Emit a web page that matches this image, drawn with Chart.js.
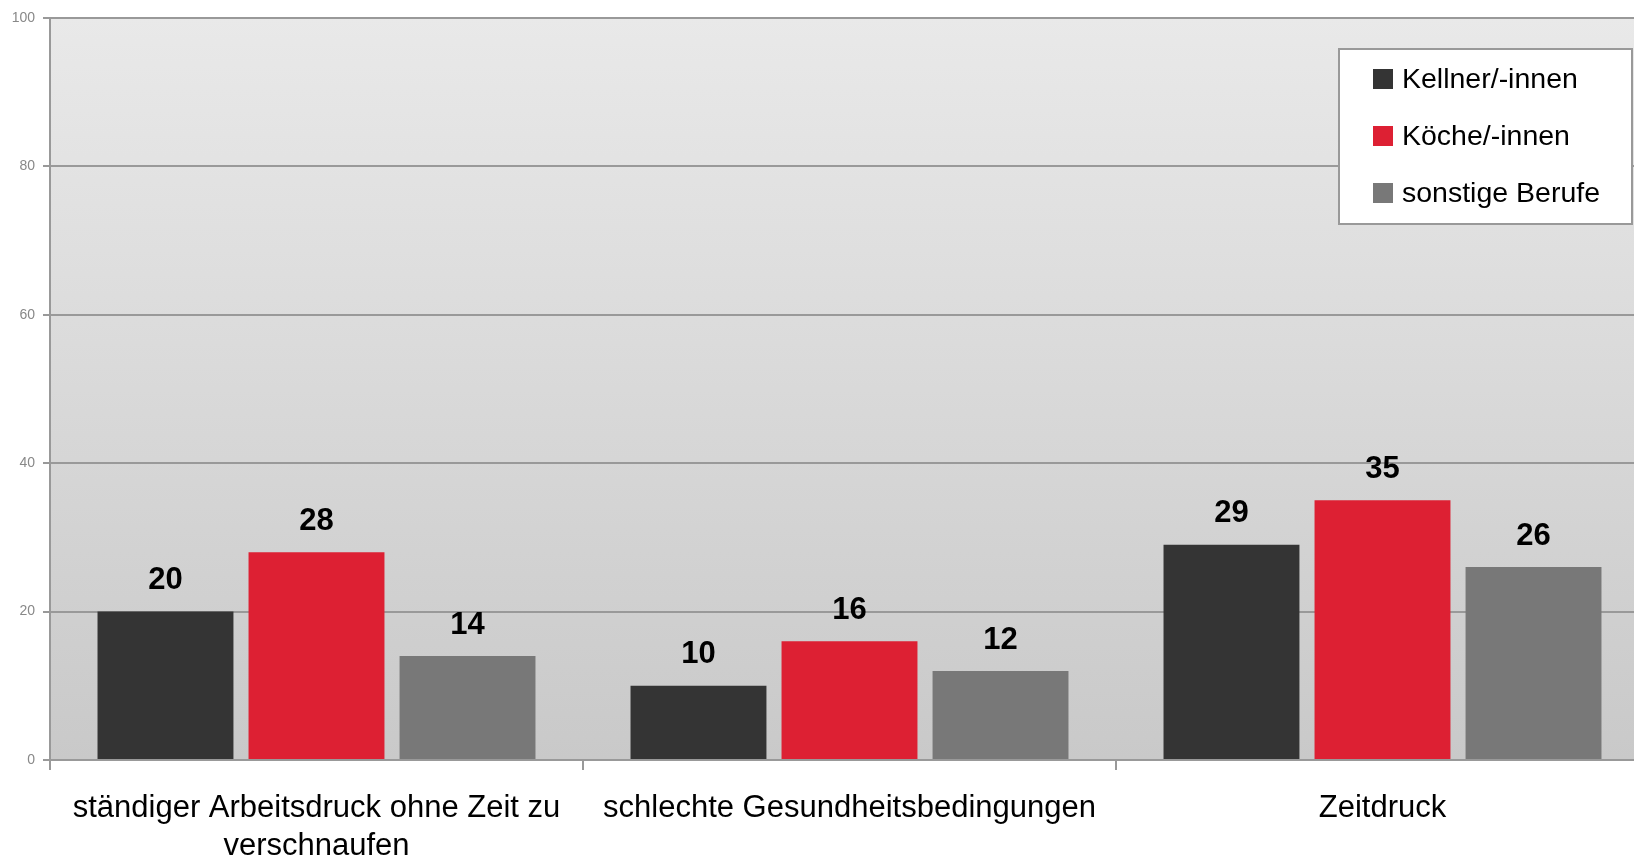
<!DOCTYPE html>
<html lang="de">
<head>
<meta charset="utf-8">
<title>Belastungen nach Berufsgruppe</title>
<script src="https://cdn.jsdelivr.net/npm/chart.js@4.4.1/dist/chart.umd.min.js"></script>
<style>
  html, body { margin: 0; padding: 0; background: #fff; overflow: hidden; }
  #wrap { width: 1634px; height: 860px; overflow: hidden; }
  canvas { display: block; }
</style>
</head>
<body>
<div id="wrap"><canvas id="belastungChart" width="1650" height="860"></canvas></div>
<script>
const categories = [
  ["ständiger Arbeitsdruck ohne Zeit zu", "verschnaufen"],
  "schlechte Gesundheitsbedingungen",
  "Zeitdruck"
];
const seriesLabels = ["Kellner/-innen", "Köche/-innen", "sonstige Berufe"];
const kellnerValues = [20, 10, 29];
const koecheValues = [28, 16, 35];
const sonstigeValues = [14, 12, 26];
const yMin = 0;
const yMax = 100;
const yStep = 20;

const seriesColors = ['#343434', '#dd2033', '#787878'];

Chart.defaults.font.family = '"Liberation Sans", Arial, sans-serif';

// grey gradient behind the bars
const plotBackground = {
  id: 'plotBackground',
  beforeDraw(chart) {
    const { ctx, chartArea } = chart;
    const grad = ctx.createLinearGradient(0, chartArea.top, 0, chartArea.bottom);
    grad.addColorStop(0, '#e9e9e9');
    grad.addColorStop(1, '#c9c9c9');
    ctx.save();
    ctx.fillStyle = grad;
    ctx.fillRect(chartArea.left, chartArea.top, chartArea.right - chartArea.left, chartArea.bottom - chartArea.top);
    ctx.restore();
  }
};

// bold numbers above every bar
const valueLabels = {
  id: 'valueLabels',
  afterDatasetsDraw(chart) {
    const ctx = chart.ctx;
    ctx.save();
    ctx.font = 'bold 31px "Liberation Sans", Arial, sans-serif';
    ctx.fillStyle = '#000';
    ctx.textAlign = 'center';
    ctx.textBaseline = 'middle';
    chart.data.datasets.forEach((ds, i) => {
      chart.getDatasetMeta(i).data.forEach((bar, j) => {
        ctx.fillText(String(ds.data[j]), bar.x, bar.y - 31);
      });
    });
    ctx.restore();
  }
};

// framed legend in the upper right corner
const boxLegend = {
  id: 'boxLegend',
  afterDraw(chart) {
    const ctx = chart.ctx;
    const x = 1339, y = 49, w = 293, h = 175;
    ctx.save();
    ctx.fillStyle = '#fff';
    ctx.fillRect(x, y, w, h);
    ctx.strokeStyle = '#999';
    ctx.lineWidth = 2;
    ctx.strokeRect(x, y, w, h);
    ctx.font = '28.5px "Liberation Sans", Arial, sans-serif';
    ctx.textBaseline = 'middle';
    ctx.textAlign = 'left';
    chart.data.datasets.forEach((ds, i) => {
      const cy = 79 + i * 57;
      ctx.fillStyle = ds.backgroundColor;
      ctx.fillRect(x + 34, cy - 10, 20, 20);
      ctx.fillStyle = '#000';
      ctx.fillText(ds.label, x + 63, cy + 1);
    });
    ctx.restore();
  }
};

const ctx = document.getElementById('belastungChart');

new Chart(ctx, {
  type: 'bar',
  data: {
    labels: categories,
    datasets: [
      { label: seriesLabels[0], data: kellnerValues, backgroundColor: seriesColors[0] },
      { label: seriesLabels[1], data: koecheValues, backgroundColor: seriesColors[1] },
      { label: seriesLabels[2], data: sonstigeValues, backgroundColor: seriesColors[2] }
    ]
  },
  options: {
    responsive: false,
    devicePixelRatio: 1,
    animation: false,
    categoryPercentage: 0.85,
    barPercentage: 0.9,
    layout: {
      padding: { top: 18, right: 1, left: 0, bottom: 0 }
    },
    plugins: {
      legend: { display: false },
      tooltip: { enabled: false }
    },
    scales: {
      x: {
        offset: true,
        grid: {
          offset: true,
          drawOnChartArea: false,
          drawTicks: true,
          tickLength: 10,
          color: '#999',
          lineWidth: 2
        },
        border: { color: '#999', width: 2 },
        ticks: {
          color: '#000',
          font: { size: 31, lineHeight: 38 / 31 },
          padding: 19,
          maxRotation: 0,
          autoSkip: false
        },
        afterFit(scale) {
          scale.height = 100;
        }
      },
      y: {
        min: yMin,
        max: yMax,
        ticks: {
          stepSize: yStep,
          color: '#888',
          font: { size: 14 },
          padding: 8
        },
        grid: {
          color: '#999',
          lineWidth: 2,
          tickLength: 7
        },
        border: { color: '#999', width: 2 },
        afterFit(scale) {
          scale.width = 50;
        }
      }
    }
  },
  plugins: [plotBackground, valueLabels, boxLegend]
});
</script>
</body>
</html>
